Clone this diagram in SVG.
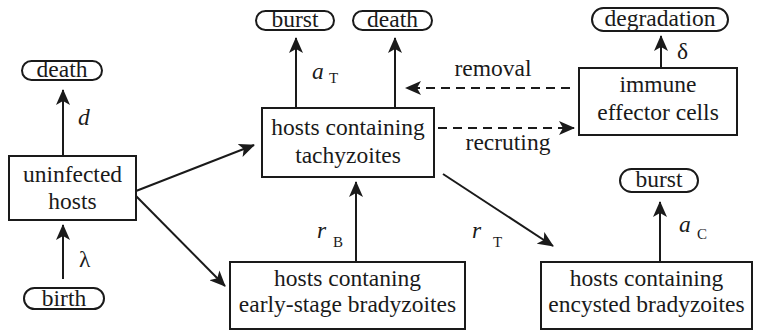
<svg xmlns="http://www.w3.org/2000/svg" width="766" height="331" viewBox="0 0 766 331">
<defs>
<marker id="ah" markerUnits="userSpaceOnUse" markerWidth="16" markerHeight="14" refX="15" refY="7" orient="auto">
<path d="M0,0 L16,7 L0,14 L4,7 z" fill="#1a1a1a"/>
</marker>
</defs>
<style>
text{font-family:"Times New Roman","Liberation Serif",serif;font-size:23.5px;fill:#1a1a1a}
.c{text-anchor:middle}
.it{font-style:italic}
.sub{font-size:15px}
.shape{fill:#fff;stroke:#1a1a1a;stroke-width:2}
.ln{stroke:#1a1a1a;stroke-width:2;fill:none;marker-end:url(#ah)}
.dash{stroke-dasharray:9,6}
</style>
<rect width="766" height="331" fill="#fff"/>
<g id="connectors">
<line class="ln" x1="63" y1="156" x2="63" y2="90"/>
<line class="ln" x1="63" y1="279" x2="63" y2="225"/>
<line class="ln" x1="136" y1="191" x2="254" y2="145"/>
<line class="ln" x1="136" y1="196" x2="225" y2="286"/>
<line class="ln" x1="296" y1="108" x2="296" y2="38"/>
<line class="ln" x1="395" y1="108" x2="395" y2="38"/>
<line class="ln" x1="356" y1="262" x2="356" y2="182"/>
<line class="ln" x1="443" y1="174" x2="553" y2="246"/>
<line class="ln" x1="661" y1="68" x2="661" y2="36"/>
<line class="ln" x1="660" y1="262" x2="660" y2="202"/>
<line class="ln dash" x1="570" y1="88" x2="406" y2="88"/>
<line class="ln dash" x1="438" y1="128" x2="574" y2="128"/>
<text class="it" x="78" y="125">d</text>
<text x="79" y="267">λ</text>
<text class="it" x="312" y="79">a</text><text class="sub" x="329" y="83">T</text>
<text class="it" x="317" y="238">r</text><text class="sub" x="333" y="247">B</text>
<text class="it" x="472" y="238">r</text><text class="sub" x="493" y="247">T</text>
<text class="it" x="679" y="232">a</text><text class="sub" x="697" y="239">C</text>
<text x="677" y="59">δ</text>
<text class="c" x="493" y="76">removal</text>
<text class="c" x="508" y="150">recruting</text>
</g>
<g id="death1"><rect class="shape" x="22" y="61" width="80" height="19" rx="9.5"/><text class="c" x="62" y="77">death</text></g>
<g id="birth"><rect class="shape" x="24" y="288" width="80" height="21" rx="10.5"/><text class="c" x="64" y="306">birth</text></g>
<g id="uninfected"><rect class="shape" x="9" y="156" width="127" height="64"/><text class="c" x="72.5" y="182">uninfected</text><text class="c" x="72.5" y="209">hosts</text></g>
<g id="burst1"><rect class="shape" x="256" y="11" width="78" height="19" rx="9.5"/><text class="c" x="295" y="27">burst</text></g>
<g id="death2"><rect class="shape" x="353" y="11" width="79" height="19" rx="9.5"/><text class="c" x="392.5" y="27">death</text></g>
<g id="tachy"><rect class="shape" x="262" y="108" width="172" height="69"/><text class="c" x="348" y="135">hosts containing</text><text class="c" x="348" y="163">tachyzoites</text></g>
<g id="degradation"><rect class="shape" x="592" y="8" width="136" height="23" rx="11.5"/><text class="c" x="660" y="26">degradation</text></g>
<g id="immune"><rect class="shape" x="579" y="68" width="158" height="67"/><text class="c" x="658" y="92">immune</text><text class="c" x="658" y="120">effector cells</text></g>
<g id="early"><rect class="shape" x="230" y="262" width="235" height="67"/><text class="c" x="347.5" y="286">hosts contaning</text><text class="c" x="347.5" y="312">early-stage bradyzoites</text></g>
<g id="burst2"><rect class="shape" x="620" y="169" width="78" height="23" rx="11.5"/><text class="c" x="659" y="187">burst</text></g>
<g id="encysted"><rect class="shape" x="541" y="262" width="211" height="67"/><text class="c" x="646.5" y="286">hosts containing</text><text class="c" x="646.5" y="312">encysted bradyzoites</text></g>
</svg>
